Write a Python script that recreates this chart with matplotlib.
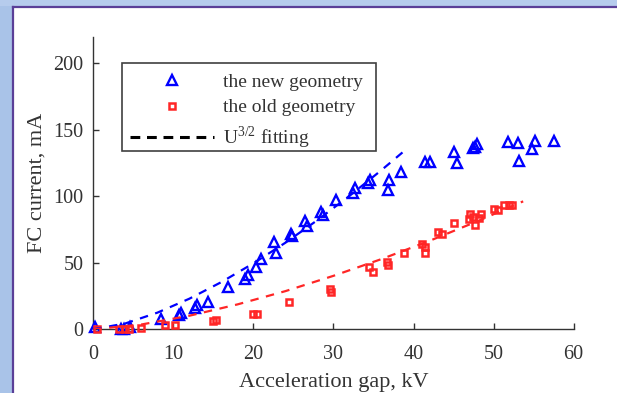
import matplotlib
matplotlib.use('Agg')
from matplotlib import pyplot as plt
from matplotlib.lines import Line2D
from matplotlib.patches import Rectangle

plt.rcParams['font.family'] = ['Liberation Serif', 'DejaVu Serif']
plt.rcParams['mathtext.fontset'] = 'custom'
plt.rcParams['mathtext.rm'] = 'Liberation Serif'

# FC current vs acceleration gap, new geometry (kV, mA)
newGap = [0.2, 3.4, 3.8, 4.6, 8.5, 10.7, 10.9, 12.7, 13.0, 14.3, 16.8, 18.9, 19.3,
          20.3, 20.9, 22.6, 22.8, 24.7, 24.8, 26.4, 26.7, 28.5, 28.7, 30.3, 32.4,
          32.7, 34.3, 34.6, 36.9, 36.8, 38.4, 41.4, 42.0, 45.1, 45.4, 47.4, 47.7,
          47.9, 51.8, 53.1, 53.2, 54.8, 55.2, 57.5]
newCurrent = [2.0, 0.5, 0.5, 2.0, 8.0, 10.5, 12.5, 16.0, 18.5, 20.5, 31.8, 38.0, 41.0,
              46.8, 53.0, 66.0, 57.6, 72.0, 70.0, 81.5, 78.0, 88.5, 86.0, 97.5, 102.5,
              106.0, 110.0, 112.0, 112.0, 104.5, 118.5, 125.8, 125.8, 133.3, 125.3,
              136.0, 137.0, 139.0, 140.8, 140.0, 126.3, 135.8, 141.6, 141.4]

# old geometry
oldGap = [0.5, 3.2, 3.9, 4.5, 5.9, 9.0, 10.2, 15.0, 15.3, 19.9, 20.4, 24.5, 29.6,
          29.7, 34.5, 34.9, 36.7, 36.8, 38.8, 41.1, 41.4, 41.4, 43.1, 43.5, 45.1,
          47.1, 46.9, 47.4, 47.7, 48.4, 48.2, 50.1, 50.6, 51.3, 51.9, 52.3]
oldCurrent = [0.0, 0.0, 0.5, 0.5, 1.0, 3.5, 3.5, 6.2, 7.3, 11.8, 11.8, 20.5, 30.3,
              28.0, 46.8, 43.0, 50.6, 48.1, 57.2, 64.0, 61.9, 57.0, 72.9, 71.6, 79.8,
              86.4, 83.2, 84.4, 78.2, 86.6, 83.8, 90.3, 89.5, 93.2, 93.5, 93.7]

# U^(3/2) fitting curves
fitNewGap = [0, 4, 8, 12, 16, 20, 24, 28, 32, 36, 39.2]
fitNewCurrent = [0, 4.4, 12.5, 23.0, 35.5, 49.6, 65.1, 82.1, 100.3, 119.7, 135.9]
fitOldGap = [0, 6, 12, 18, 24, 30, 36, 42, 48, 53.7]
fitOldCurrent = [0, 3.6, 10.2, 18.7, 28.7, 40.2, 52.8, 66.5, 81.3, 96.2]

xTicks = [0, 10, 20, 30, 40, 50, 60]
yTicks = [0, 50, 100, 150, 200]

blue = '#0000ff'
red = '#ff2626'
axisColor = '#333333'

fig = plt.figure(figsize=(6.17, 3.93), dpi=100)
fig.patch.set_facecolor('white')

# slide frame: light blue band on the left and top, purple edge line
W, H = 617.0, 393.0
fig.patches.append(Rectangle((0, 0), 12 / W, 1, transform=fig.transFigure,
                             facecolor='#a9c3e8', edgecolor='none', zorder=0))
fig.patches.append(Rectangle((0, 1 - 6 / H), 1, 6 / H, transform=fig.transFigure,
                             facecolor='#b6cced', edgecolor='none', zorder=0))
fig.lines.append(Line2D([12.8 / W, 12.8 / W], [0, 1 - 6.8 / H], transform=fig.transFigure,
                        color='#5a3f98', linewidth=1.6))
fig.lines.append(Line2D([12.8 / W, 1], [1 - 6.8 / H, 1 - 6.8 / H], transform=fig.transFigure,
                        color='#5a3f98', linewidth=1.6))

ax = fig.add_axes([93.3 / W, 1 - 329.3 / H, 480.3 / W, 292.6 / H])

ax.plot(newGap, newCurrent, linestyle='none', marker='^', markersize=7,
        markerfacecolor='none', markeredgecolor=blue, markeredgewidth=1.7,
        clip_on=False, zorder=3)
ax.plot(oldGap, oldCurrent, linestyle='none', marker='s', markersize=4.3,
        markerfacecolor='none', markeredgecolor=red, markeredgewidth=1.8,
        clip_on=False, zorder=3)
ax.plot(fitNewGap, fitNewCurrent, color=blue, linewidth=1.6, dashes=(3.8, 3.4), zorder=4)
ax.plot(fitOldGap, fitOldCurrent, color=red, linewidth=1.6, dashes=(3.8, 3.4), zorder=4)

ax.set_xlim(0, 60)
ax.set_ylim(0, 220)
ax.set_xticks(xTicks)
ax.set_yticks(yTicks)
ax.spines['top'].set_visible(False)
ax.spines['right'].set_visible(False)
for side in ['left', 'bottom']:
    ax.spines[side].set_color(axisColor)
    ax.spines[side].set_linewidth(1.0)
ax.tick_params(direction='in', length=4.5, width=1.0, color=axisColor,
               labelcolor=axisColor, labelsize=14.5)
ax.tick_params(axis='x', pad=11)
ax.tick_params(axis='y', pad=7)

ax.set_xlabel('Acceleration gap, kV', fontsize=16, color=axisColor, labelpad=7)
ax.set_ylabel('FC current, mA', fontsize=16, color=axisColor, labelpad=5)

handles = [
    Line2D([], [], linestyle='none', marker='^', markersize=7, markerfacecolor='none',
           markeredgecolor=blue, markeredgewidth=1.7),
    Line2D([], [], linestyle='none', marker='s', markersize=4.3, markerfacecolor='none',
           markeredgecolor=red, markeredgewidth=1.8),
    Line2D([], [], color='black', linewidth=2.2, dashes=(3.2, 2.2)),
]
labels = ['the new geometry', 'the old geometry', r'U$^{\mathrm{3/2}}$ fitting']

# legend entries without their own frame; the box is drawn separately
axPos = ax.get_position()
legX = (130 / W - axPos.x0) / axPos.width
legY = (1 - 73 / H - axPos.y0) / axPos.height
leg = ax.legend(handles, labels, loc='upper left', bbox_to_anchor=(legX, legY),
                fontsize=14, frameon=False, handlelength=4.3,
                handletextpad=0.5, labelspacing=0.42, borderpad=0,
                borderaxespad=0, labelcolor=axisColor)
ax.add_patch(Rectangle((122 / W, 1 - 151 / H), 254 / W, 88 / H, transform=fig.transFigure,
                       facecolor='white', edgecolor='#404040', linewidth=1.2,
                       clip_on=False, zorder=5))
leg.set_zorder(6)

plt.savefig('out.png', dpi=100, facecolor=fig.get_facecolor())
